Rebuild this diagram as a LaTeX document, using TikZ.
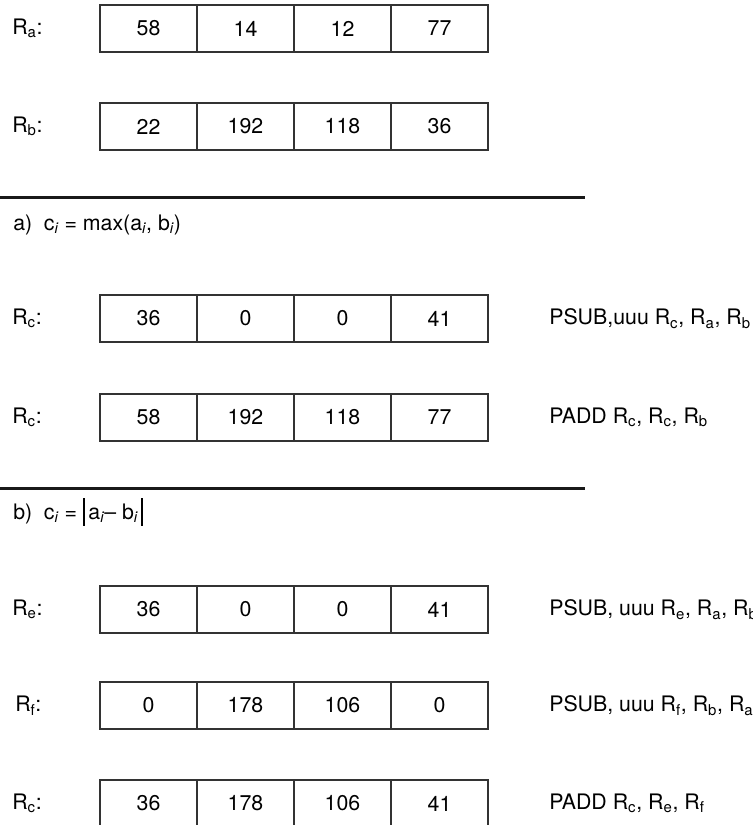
\documentclass[tikz,border=0pt]{standalone}
\usepackage{fontspec}
\setmainfont{TeX Gyre Heros}
\begin{document}
\begin{tikzpicture}[x=0.75pt, y=-0.75pt,
    txt/.style={font=\fontsize{16}{19}\selectfont},
    cell/.style={txt, draw=black!80, line width=1.1pt, minimum width=72.75pt,
      minimum height=35.25pt, inner sep=0pt},
    reg/.style={txt, anchor=west, inner sep=0pt},
    rule/.style={line width=2pt, black!90}]
  \useasboundingbox (0,0) rectangle (753,825);
  % operands
  \node[reg] (lra) at (12,28.5) {R\textsubscript{a}:};
  \foreach \v [count=\i] in {58,14,12,77}
    \node[cell] (ra\i) at ({51.5+97*\i},28.5) {\v};
  \node[reg] (lrb) at (12,126.5) {R\textsubscript{b}:};
  \foreach \v [count=\i] in {22,192,118,36}
    \node[cell] (rb\i) at ({51.5+97*\i},126.5) {\v};
  \draw[rule] (0,197.5) -- (585,197.5);
  % a) maximum
  \node[reg] (ha) at (13,225) {a)\hspace{0.55em}c\textsubscript{\itshape i} = max(a\textsubscript{\itshape i}, b\textsubscript{\itshape i})};
  \node[reg] (lrc1) at (12,318.5) {R\textsubscript{c}:};
  \foreach \v [count=\i] in {36,0,0,41}
    \node[cell] (rca\i) at ({51.5+97*\i},318.5) {\v};
  \node[reg] (ica) at (549,318.5) {PSUB,uuu R\textsubscript{c}, R\textsubscript{a}, R\textsubscript{b}};
  \node[reg] (lrc2) at (12,417.5) {R\textsubscript{c}:};
  \foreach \v [count=\i] in {58,192,118,77}
    \node[cell] (rcb\i) at ({51.5+97*\i},417.5) {\v};
  \node[reg] (icb) at (549,417.5) {PADD R\textsubscript{c}, R\textsubscript{c}, R\textsubscript{b}};
  \draw[rule] (0,488.5) -- (585,488.5);
  % b) absolute difference
  \node[reg] (hb) at (13,512) {b)\hspace{0.55em}c\textsubscript{\itshape i} = \rule[-0.3em]{0.09em}{1.3em}\,a\textsubscript{\itshape i}– b\textsubscript{\itshape i}\,\rule[-0.3em]{0.09em}{1.3em}};
  \node[reg] (lre) at (12,609.5) {R\textsubscript{e}:};
  \foreach \v [count=\i] in {36,0,0,41}
    \node[cell] (re\i) at ({51.5+97*\i},609.5) {\v};
  \node[reg] (ire) at (549,609.5) {PSUB, uuu R\textsubscript{e}, R\textsubscript{a}, R\textsubscript{b}};
  \node[reg] (lrf) at (15,705.5) {R\textsubscript{f}:};
  \foreach \v [count=\i] in {0,178,106,0}
    \node[cell] (rf\i) at ({51.5+97*\i},705.5) {\v};
  \node[reg] (irf) at (549,705.5) {PSUB, uuu R\textsubscript{f}, R\textsubscript{b}, R\textsubscript{a}};
  \node[reg] (lrc3) at (12,803.5) {R\textsubscript{c}:};
  \foreach \v [count=\i] in {36,178,106,41}
    \node[cell] (rcc\i) at ({51.5+97*\i},803.5) {\v};
  \node[reg] (icc) at (549,803.5) {PADD R\textsubscript{c}, R\textsubscript{e}, R\textsubscript{f}};
\end{tikzpicture}
\end{document}
